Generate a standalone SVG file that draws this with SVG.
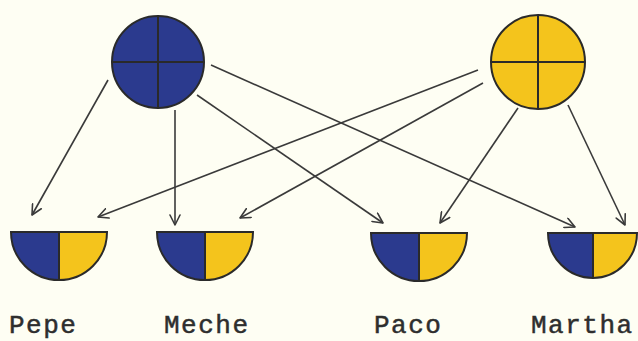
<svg xmlns="http://www.w3.org/2000/svg" width="638" height="341" viewBox="0 0 638 341">
<defs>
<marker id="arr" viewBox="0 0 12 12" refX="11" refY="6" markerWidth="12" markerHeight="12" markerUnits="userSpaceOnUse" orient="auto">
<path d="M1,1 L11,6 L1,11" fill="none" stroke="#3a3a3a" stroke-width="1.6" stroke-linecap="round" stroke-linejoin="round"/>
</marker>
<style>
.edge{fill:none;stroke:#3a3a3a;stroke-width:1.6;marker-end:url(#arr)}
.blue{fill:#2b3a8e}
.yel{fill:#f4c41c}
.out{fill:none;stroke:#2a2a2a;stroke-width:2}
.cross{stroke:#2a2a2a;stroke-width:2}
.lbl{font-family:"Liberation Mono","Courier New",monospace;font-size:26px;letter-spacing:1.5px;fill:#2e2e2e;stroke:#2e2e2e;stroke-width:0.5}
</style>
</defs>
<rect width="638" height="341" fill="#fefef3"/>
<g id="connectors">
<line class="edge" x1="108" y1="80" x2="32" y2="215"/>
<line class="edge" x1="175" y1="110" x2="175" y2="225"/>
<line class="edge" x1="197" y1="95" x2="383" y2="223"/>
<line class="edge" x1="211" y1="65" x2="575" y2="227"/>
<line class="edge" x1="478" y1="70" x2="98" y2="217"/>
<line class="edge" x1="483" y1="83" x2="240" y2="218"/>
<line class="edge" x1="518" y1="108" x2="440" y2="223"/>
<line class="edge" x1="568" y1="105" x2="625" y2="225"/>
</g>
<g id="parent-blue">
<circle class="blue" cx="158" cy="62" r="46"/>
<line class="cross" x1="158" y1="16" x2="158" y2="108"/>
<line class="cross" x1="112" y1="62" x2="204" y2="62"/>
<circle class="out" cx="158" cy="62" r="46"/>
</g>
<g id="parent-yellow">
<circle class="yel" cx="538" cy="62" r="47"/>
<line class="cross" x1="538" y1="15" x2="538" y2="109"/>
<line class="cross" x1="491" y1="62" x2="585" y2="62"/>
<circle class="out" cx="538" cy="62" r="47"/>
</g>
<g id="pepe">
<path class="blue" d="M11,232 L59,232 L59,280 A48,48 0 0 1 11,232 Z"/>
<path class="yel" d="M59,232 L107,232 A48,48 0 0 1 59,280 Z"/>
<path class="out" d="M11,232 L107,232 A48,48 0 0 1 11,232 Z M59,232 L59,280"/>
<text class="lbl" x="9" y="333">Pepe</text>
</g>
<g id="meche">
<path class="blue" d="M157,232 L205,232 L205,280 A48,48 0 0 1 157,232 Z"/>
<path class="yel" d="M205,232 L253,232 A48,48 0 0 1 205,280 Z"/>
<path class="out" d="M157,232 L253,232 A48,48 0 0 1 157,232 Z M205,232 L205,280"/>
<text class="lbl" x="164" y="333">Meche</text>
</g>
<g id="paco">
<path class="blue" d="M371,233 L419,233 L419,281 A48,48 0 0 1 371,233 Z"/>
<path class="yel" d="M419,233 L467,233 A48,48 0 0 1 419,281 Z"/>
<path class="out" d="M371,233 L467,233 A48,48 0 0 1 371,233 Z M419,233 L419,281"/>
<text class="lbl" x="374" y="333">Paco</text>
</g>
<g id="martha">
<path class="blue" d="M548,233 L593,233 L593,278 A45,45 0 0 1 548,233 Z"/>
<path class="yel" d="M593,233 L637,233 A44,45 0 0 1 593,278 Z"/>
<path class="out" d="M548,233 L637,233 A44,45 0 0 1 593,278 A45,45 0 0 1 548,233 Z M593,233 L593,278"/>
<text class="lbl" x="531" y="333">Martha</text>
</g>
</svg>
